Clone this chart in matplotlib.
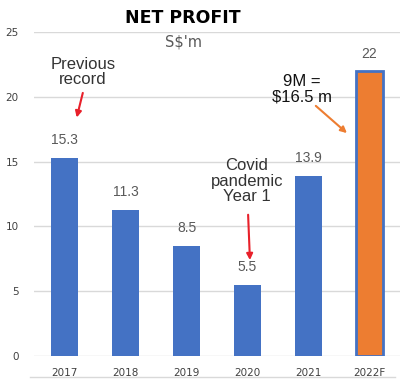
import matplotlib
matplotlib.use("Agg")
import matplotlib.pyplot as plt
from matplotlib.lines import Line2D

years = ["2017", "2018", "2019", "2020", "2021", "2022F"]
profit = [15.3, 11.3, 8.5, 5.5, 13.9, 22]
value_labels = ["15.3", "11.3", "8.5", "5.5", "13.9", "22"]
yticks = [0, 5, 10, 15, 20, 25]

blue = "#4472C4"
orange = "#ED7D31"
red = "#E8202A"

fig = plt.figure(figsize=(4.0, 3.82), dpi=100)
ax = fig.add_axes([34/400, 26/382, 366/400, 324/382])

colors = [blue] * 5 + [orange]
x = list(range(len(years)))
ax.bar(x, profit, width=0.44, color=colors, edgecolor=blue, linewidth=[0]*5 + [2], zorder=3)

for xi, v, lab in zip(x, profit, value_labels):
    ax.text(xi, v + 0.8, lab, ha="center", va="bottom", fontsize=10, color="#595959",
            family="Liberation Sans")

ax.set_xlim(-0.5, 5.5)
ax.set_ylim(0, 25)
ax.set_yticks(yticks)
ax.set_xticks(x)
ax.set_xticklabels(years)
ax.tick_params(axis="both", length=0, labelsize=7.5, colors="#404040")
ax.tick_params(axis="y", pad=11)
ax.tick_params(axis="x", pad=9)
ax.grid(axis="y", color="#D9D9D9", linewidth=1, zorder=0)
for s in ax.spines.values():
    s.set_visible(False)

fig.text(183/400, 1 - 18/382, "NET PROFIT", ha="center", va="center", fontsize=12.5,
         fontweight="heavy", color="black")
fig.text(183/400, 1 - 42/382, "S$'m", ha="center", va="center", fontsize=10.5, color="#595959")

# Annotation texts
txt_kw = dict(ha="center", va="center", fontsize=12, linespacing=1.05, family="Liberation Sans")
ax.text(0.30, 21.9, "Previous\nrecord", color="#333333", **txt_kw)
ax.text(2.99, 13.5, "Covid\npandemic\nYear 1", color="#333333", **txt_kw)
ax.text(3.89, 20.6, "9M =\n$16.5 m", color="#111111", **txt_kw)

# Arrows
arr = dict(arrowstyle="-|>", lw=1.5, shrinkA=0, shrinkB=0, mutation_scale=9)
ax.annotate("", xy=(0.20, 18.4), xytext=(0.30, 20.3), arrowprops=dict(color=red, **arr))
ax.annotate("", xy=(3.04, 7.4), xytext=(3.01, 10.9), arrowprops=dict(color=red, **arr))
ax.annotate("", xy=(4.63, 17.2), xytext=(4.12, 19.3), arrowprops=dict(color=orange, **arr))

fig.add_artist(Line2D([30/400, 395/400], [1 - 377/382, 1 - 377/382], transform=fig.transFigure,
                      color="#D9D9D9", linewidth=1))

fig.savefig("out.png", dpi=100)
